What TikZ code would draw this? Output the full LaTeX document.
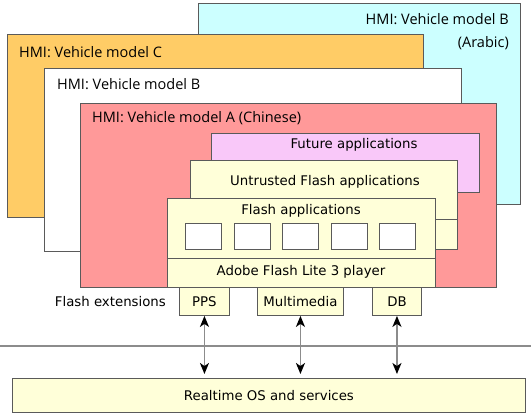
\documentclass[tikz,border=0pt]{standalone}
\usepackage{fontspec}
\setmainfont{DejaVu Sans}
\newfontfamily\hmifont{Open Sans}
\usetikzlibrary{arrows.meta}

\definecolor{hmiarabic}{HTML}{CCFFFF}
\definecolor{hmic}{HTML}{FFCC66}
\definecolor{hmia}{HTML}{FF9999}
\definecolor{future}{HTML}{F9C8F9}
\definecolor{cream}{HTML}{FFFFD9}
\definecolor{edge}{HTML}{5A5A5A}
\definecolor{rule}{HTML}{8C8C8C}

\begin{document}
\begin{tikzpicture}[x=1pt,y=-1pt,
  box/.style={draw=edge, line width=0.9pt, anchor=north west, inner sep=0pt},
  hmi/.style={font=\hmifont\fontsize{14.5}{23}\selectfont, inner sep=0pt},
  lbl/.style={font=\fontsize{13.3}{15}\selectfont, inner sep=0pt},
  link/.style={draw=rule, line width=1.5pt, shorten >=4pt,
    {Stealth[length=11pt,width=9pt,inset=3pt,black]}-{Stealth[length=11pt,width=9pt,inset=3pt,black]}}]
\useasboundingbox (0,0) rectangle (531,413);
% HMI layers, back to front
\node[box, fill=hmiarabic, minimum width=322pt, minimum height=201pt] (arabic) at (198,3) {};
\node[hmi, align=right, anchor=east] (arabiclbl) at (509,31.5) {HMI: Vehicle model B\\(Arabic)};
\node[box, fill=hmic, minimum width=416pt, minimum height=183pt] (modelc) at (7,34) {};
\node[hmi, anchor=west] (modelclbl) at (19,52) {HMI: Vehicle model C};
\node[box, fill=white, minimum width=417pt, minimum height=183pt] (modelb) at (44,68) {};
\node[hmi, anchor=west] (modelblbl) at (57,84) {HMI: Vehicle model B};
\node[box, fill=hmia, minimum width=416pt, minimum height=184pt] (modela) at (80,103) {};
\node[hmi, anchor=west] (modelalbl) at (92,118) {HMI: Vehicle model A (Chinese)};
% application layers
\node[box, fill=future, minimum width=268pt, minimum height=59pt] (future) at (211,133) {};
\node[lbl] (futurelbl) at (354,145) {Future applications};
\node[box, fill=cream, minimum width=267pt, minimum height=89pt] (untrusted) at (190,160) {};
\draw[draw=edge, line width=0.9pt] (190,219) -- (457,219);
\node[lbl] (untrustedlbl) at (325,182) {Untrusted Flash applications};
\node[box, fill=cream, minimum width=268pt, minimum height=89pt] (flash) at (167,198) {};
\draw[draw=edge, line width=0.9pt] (167,258) -- (435,258);
\node[lbl] (flashlbl) at (301,211) {Flash applications};
\node[lbl] (player) at (301,272) {Adobe Flash Lite 3 player};
\foreach \i in {0,...,4}
  \node[box, fill=white, minimum width=36pt, minimum height=26pt] (app\i) at (185+48.5*\i,223) {};
% extensions
\node[box, lbl, fill=cream, minimum width=50pt, minimum height=28pt] (pps) at (179,287) {PPS};
\node[box, lbl, fill=cream, minimum width=86pt, minimum height=28pt] (media) at (257,287) {Multimedia};
\node[box, lbl, fill=cream, minimum width=49pt, minimum height=28pt] (db) at (372,287) {DB};
\node[lbl, anchor=east] (extlbl) at (166,302) {Flash extensions};
\draw[draw=rule, line width=2pt] (0,346) -- (531,346);
\node[box, lbl, fill=cream, minimum width=513pt, minimum height=34pt] (rtos) at (12,378) {Realtime OS and services};
\foreach \n in {pps,media,db}
  \draw[link] (\n.south) -- (\n.south |- rtos.north);
\end{tikzpicture}
\end{document}
